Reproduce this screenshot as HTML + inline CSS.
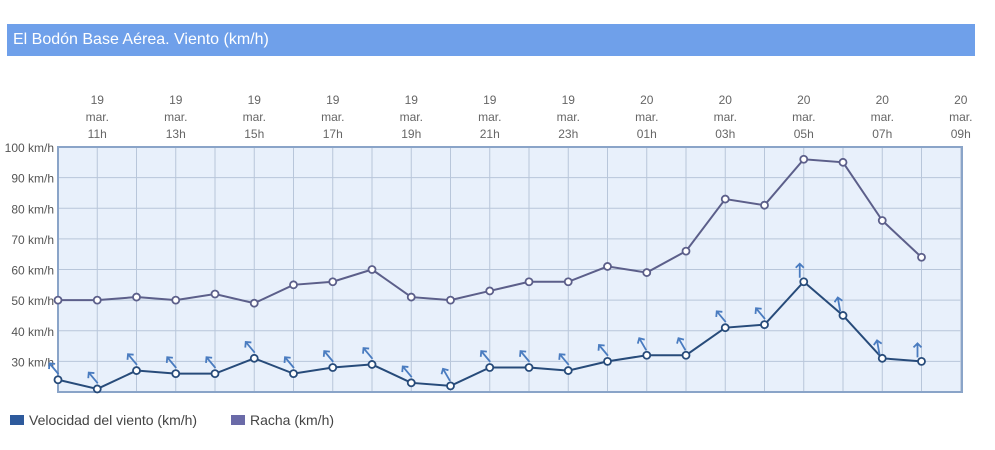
<!DOCTYPE html>
<html><head><meta charset="utf-8"><style>
body{margin:0;background:#fff;width:995px;height:450px;overflow:hidden;font-family:"Liberation Sans",sans-serif}
#title{position:absolute;left:7px;top:24px;width:968px;height:32px;background:#6fa0ea;color:#fff;font-size:16px;line-height:32px;padding-left:6px;box-sizing:border-box}
svg{position:absolute;left:0;top:0}
</style></head><body>
<div id="title">El Bodón Base Aérea. Viento (km/h)</div>
<svg id="c" width="995" height="450"></svg>
<script>
const hours=["10h","11h","12h","13h","14h","15h","16h","17h","18h","19h","20h","21h","22h","23h","00h","01h","02h","03h","04h","05h","06h","07h","08h"];
const days=["19","19","19","19","19","19","19","19","19","19","19","19","19","19","20","20","20","20","20","20","20","20","20"];
const wind=[24,21,27,26,26,31,26,28,29,23,22,28,28,27,30,32,32,41,42,56,45,31,30];
const gust=[50,50,51,50,52,49,55,56,60,51,50,53,56,56,61,59,66,83,81,96,95,76,64];
const dirs=[-40,-40,-40,-40,-40,-40,-40,-40,-40,-40,-30,-40,-40,-40,-40,-30,-30,-40,-40,0,-10,-10,0];
const yTicks=[30,40,50,60,70,80,90,100];
const L=58,R=962,T=147,B=392,step=39.25,ymin=20,ymax=100;
const X=i=>L+i*step, Y=v=>B-(v-ymin)*(B-T)/(ymax-ymin);
const s=document.getElementById('c');const NS="http://www.w3.org/2000/svg";
function mk(t,a,txt){const e=document.createElementNS(NS,t);for(const k in a)e.setAttribute(k,a[k]);if(txt!=null)e.textContent=txt;s.appendChild(e);return e;}
let e=mk('rect',{x:L,y:T,width:R-L,height:B-T,fill:'#e8f0fb',stroke:'none'});

for(let i=1;X(i)<R;i++){e=mk('line',{x1:X(i),x2:X(i),y1:T,y2:B,stroke:'#b8c6da','stroke-width':1});
}
yTicks.forEach(v=>{e=mk('line',{x1:L,x2:R,y1:Y(v),y2:Y(v),stroke:'#b8c6da','stroke-width':1});

e=mk('text',{x:54,y:Y(v)+5,'text-anchor':'end','font-size':12,fill:'#555'},v+' km/h');
});
e=mk('rect',{x:L,y:T,width:R-L,height:B-T,fill:'none',stroke:'#8aa4c8','stroke-width':2});

for(let i=1;i<hours.length+1;i+=2){const x=L+i*step;const h=i<hours.length?hours[i]:"09h";const d=i<days.length?days[i]:"20";
e=mk('text',{x:x,y:104,'text-anchor':'middle','font-size':12,fill:'#666'},d);
e=mk('text',{x:x,y:121,'text-anchor':'middle','font-size':12,fill:'#666'},'mar.');
e=mk('text',{x:x,y:138,'text-anchor':'middle','font-size':12,fill:'#666'},h);}
function series(vals,col,name){e=mk('polyline',{points:vals.map((v,i)=>X(i)+','+Y(v)).join(' '),fill:'none',stroke:col,'stroke-width':2});

vals.forEach((v,i)=>{e=mk('circle',{cx:X(i),cy:Y(v),r:3.5,fill:'#fff',stroke:col,'stroke-width':1.8});
});}
series(gust,'#5c5f8a','gust');
series(wind,'#274b7a','wind');
wind.forEach((v,i)=>{const cx=X(i)-4,cy=Y(v)-11;
e=mk('g',{transform:`translate(${cx},${cy}) rotate(${dirs[i]})`,stroke:'#4a7cc0','stroke-width':1.8,fill:'none'});

const a=document.createElementNS(NS,'path');a.setAttribute('d','M0,7 L0,-7 M-4,-3 L0,-7 L4,-3');e.appendChild(a);});
e=mk('rect',{x:10,y:415,width:14,height:10,fill:'#2e5a9c'});
e=mk('text',{x:29,y:425,'font-size':14,fill:'#444'},'Velocidad del viento (km/h)');
e=mk('rect',{x:231,y:415,width:14,height:10,fill:'#6a6aa8'});
e=mk('text',{x:250,y:425,'font-size':14,fill:'#444'},'Racha (km/h)');
</script></body></html>
